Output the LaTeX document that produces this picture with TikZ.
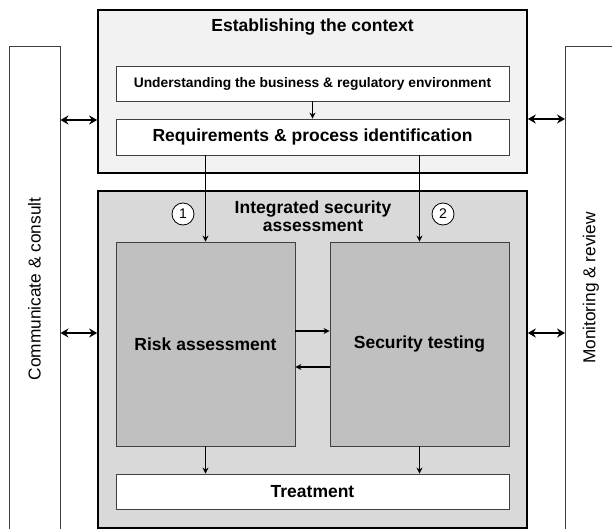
\documentclass[tikz,border=0pt]{standalone}
\usepackage{fontspec}
\setmainfont{Liberation Sans}
\usetikzlibrary{arrows.meta}

\definecolor{ctxgray}{HTML}{F2F2F2}
\definecolor{isagray}{HTML}{D9D9D9}
\definecolor{stepgray}{HTML}{C0C0C0}
\definecolor{edgegray}{HTML}{404040}

\tikzset{
  outerbox/.style={rectangle, draw=black, line width=1.6pt, inner sep=0pt},
  innerbox/.style={rectangle, draw=edgegray, line width=0.8pt, fill=white, inner sep=0pt,
    font=\bfseries\fontsize{17.5}{21}\selectfont},
  sidebox/.style={rectangle, draw=edgegray, line width=0.9pt, fill=white, inner sep=0pt},
  sidetext/.style={rotate=90, font=\fontsize{17.3}{21}\selectfont},
  numcircle/.style={circle, draw=black, line width=0.8pt, fill=white, minimum size=22pt,
    inner sep=0pt, font=\fontsize{14}{16}\selectfont},
  arr/.style={-{Stealth[length=6pt,width=6pt]}, line width=1.1pt},
  biarr/.style={{Stealth[length=8pt,width=9pt]}-{Stealth[length=8pt,width=9pt]}, line width=1.8pt}
}

\begin{document}
\begin{tikzpicture}[x=1pt,y=-1pt]

\useasboundingbox (0,0) rectangle (612,529);
\clip (0,0) rectangle (612,529);

%% Side boxes
\node (comm) [sidebox, minimum width=51pt, minimum height=514pt] at ( 34.5, 303 ) {};
\node (mon) [sidebox, minimum width=51pt, minimum height=514pt] at ( 591, 303 ) {};
\node (commtext) [sidetext] at ( 34.5, 289 ) {Communicate \& consult};
\node (montext) [sidetext] at ( 591, 288 ) {Monitoring \& review};

%% Establishing the context
\node (ctx) [outerbox, fill=ctxgray, minimum width=429pt, minimum height=163pt] at ( 312.5, 91.5 ) {};
\node (ctxtitle) [font=\bfseries\fontsize{17.5}{21}\selectfont] at ( 312.5, 27 ) {Establishing the context};
\node (und) [innerbox, font=\bfseries\fontsize{13.8}{16}\selectfont, minimum width=393pt, minimum height=35pt] at ( 312.5, 83.5 ) {Understanding the business \& regulatory environment};
\node (req) [innerbox, minimum width=393pt, minimum height=36pt] at ( 312.5, 137 ) {Requirements \& process identification};

%% Integrated security assessment
\node (isa) [outerbox, fill=isagray, minimum width=429pt, minimum height=337pt] at ( 312.5, 359.5 ) {};
\node (isatitle) [align=center, font=\bfseries\fontsize{17.5}{18}\selectfont] at ( 313, 216 ) {Integrated security\\assessment};
\node (risk) [innerbox, fill=stepgray, minimum width=179pt, minimum height=204pt] at ( 205.5, 344 ) {Risk assessment};
\node (sec) [innerbox, fill=stepgray, minimum width=179pt, minimum height=204pt] at ( 419.5, 344 ) {Security testing};
\node (treat) [innerbox, minimum width=393pt, minimum height=35pt] at ( 312.5, 491.5 ) {Treatment};

%% Connectors
\draw [arr] (und) -- (req);
\draw [arr] (req.south -| risk.north) -- (risk.north);
\draw [arr] (req.south -| sec.north) -- (sec.north);
\draw [arr] (risk.east |- 0,331) -- (sec.west |- 0,331);
\draw [arr] (sec.west |- 0,367) -- (risk.east |- 0,367);
\draw [arr] (risk.south) -- (risk.south |- treat.north);
\draw [arr] (sec.south) -- (sec.south |- treat.north);

\node (one) [numcircle] at ( 183, 214 ) {1};
\node (two) [numcircle] at ( 443, 214 ) {2};

%% Communication with the side boxes
\draw [biarr] (comm.east |- 0,120) -- (ctx.west |- 0,120);
\draw [biarr] (ctx.east |- 0,119) -- (mon.west |- 0,119);
\draw [biarr] (comm.east |- 0,333) -- (isa.west |- 0,333);
\draw [biarr] (isa.east |- 0,333) -- (mon.west |- 0,333);

\end{tikzpicture}
\end{document}
